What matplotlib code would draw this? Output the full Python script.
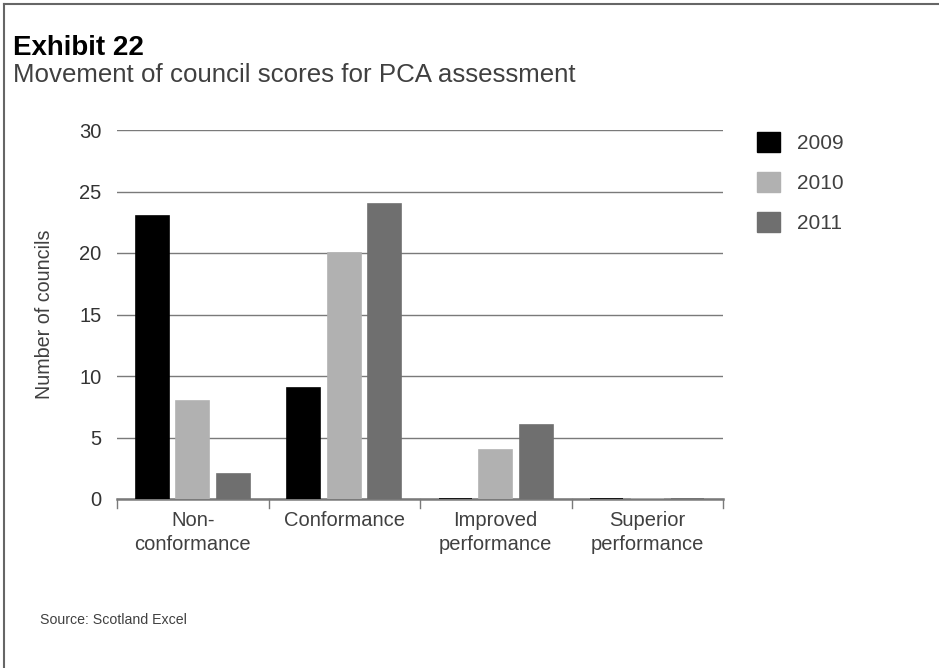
import matplotlib
matplotlib.use("Agg")
import matplotlib.pyplot as plt
import numpy as np
from matplotlib.lines import Line2D
from matplotlib.patches import Patch

categories = ["Non-\nconformance", "Conformance", "Improved\nperformance", "Superior\nperformance"]
years = ["2009", "2010", "2011"]
values_2009 = [23, 9, 0, 0]
values_2010 = [8, 20, 4, 0]
values_2011 = [2, 24, 6, 0]
y_ticks = [0, 5, 10, 15, 20, 25, 30]

colors = ["#000000", "#b1b1b1", "#6f6f6f"]
text_color = "#404040"
line_color = "#7a7a7a"

plt.rcParams["font.family"] = ["Liberation Sans", "DejaVu Sans"]

fig = plt.figure(figsize=(9.39, 6.68), dpi=100)
ax = fig.add_axes([117 / 939, 1 - 499 / 668, 606 / 939, 369 / 668])

x = np.arange(len(categories))
width = 0.22
offset = 0.267
series = [values_2009, values_2010, values_2011]
for i, (vals, col) in enumerate(zip(series, colors)):
    ax.bar(x + (i - 1) * offset, vals, width=width, color=col,
           edgecolor=col, linewidth=1.2, zorder=3, label=years[i])

ax.set_xlim(-0.5, len(categories) - 0.5)
ax.set_ylim(0, 30)
ax.set_yticks(y_ticks)
ax.set_yticklabels([str(t) for t in y_ticks], fontsize=14.5, color="#333333")
ax.yaxis.grid(True, color=line_color, linewidth=1.0, zorder=0)
ax.set_axisbelow(True)
ax.tick_params(axis="y", length=0, pad=11)

# category labels centred in each slot, dividers between slots
ax.set_xticks(x)
ax.set_xticklabels(categories, fontsize=14.5, color=text_color, linespacing=1.32)
ax.tick_params(axis="x", length=0, pad=9)
for b in np.arange(-0.5, len(categories), 1.0):
    ax.plot([b, b], [0, -0.7], color=line_color, linewidth=1.0,
            clip_on=False, zorder=2)

for s in ["top", "right", "left"]:
    ax.spines[s].set_visible(False)
ax.spines["bottom"].set_color(line_color)
ax.spines["bottom"].set_linewidth(1.8)
ax.spines["bottom"].set_zorder(2)

ax.set_ylabel("Number of councils", fontsize=14.2, color=text_color, labelpad=18)

handles = [Patch(facecolor=c, edgecolor=c) for c in colors]
fig.legend(handles, years, loc="upper left", bbox_to_anchor=(757 / 939, 1 - 132 / 668),
           frameon=False, fontsize=15, labelcolor=text_color,
           handlelength=1.1, handleheight=1.1, handletextpad=0.8,
           labelspacing=0.9, borderaxespad=0, borderpad=0)

fig.text(13 / 939, 1 - 55 / 668, "Exhibit 22", fontsize=20, fontweight="bold",
         color="#000000", va="baseline")
fig.text(13 / 939, 1 - 82 / 668, "Movement of council scores for PCA assessment",
         fontsize=18.6, color=text_color, va="baseline")
fig.text(40 / 939, 1 - 624 / 668, "Source: Scotland Excel", fontsize=10.2,
         color=text_color, va="baseline")

# frame on the top and left edges
fig.add_artist(Line2D([4 / 939, 1], [1 - 4 / 668, 1 - 4 / 668], color="#666666",
                      linewidth=1.5, transform=fig.transFigure))
fig.add_artist(Line2D([4 / 939, 4 / 939], [0, 1 - 4 / 668], color="#666666",
                      linewidth=1.5, transform=fig.transFigure))

fig.savefig("out.png", dpi=100)
